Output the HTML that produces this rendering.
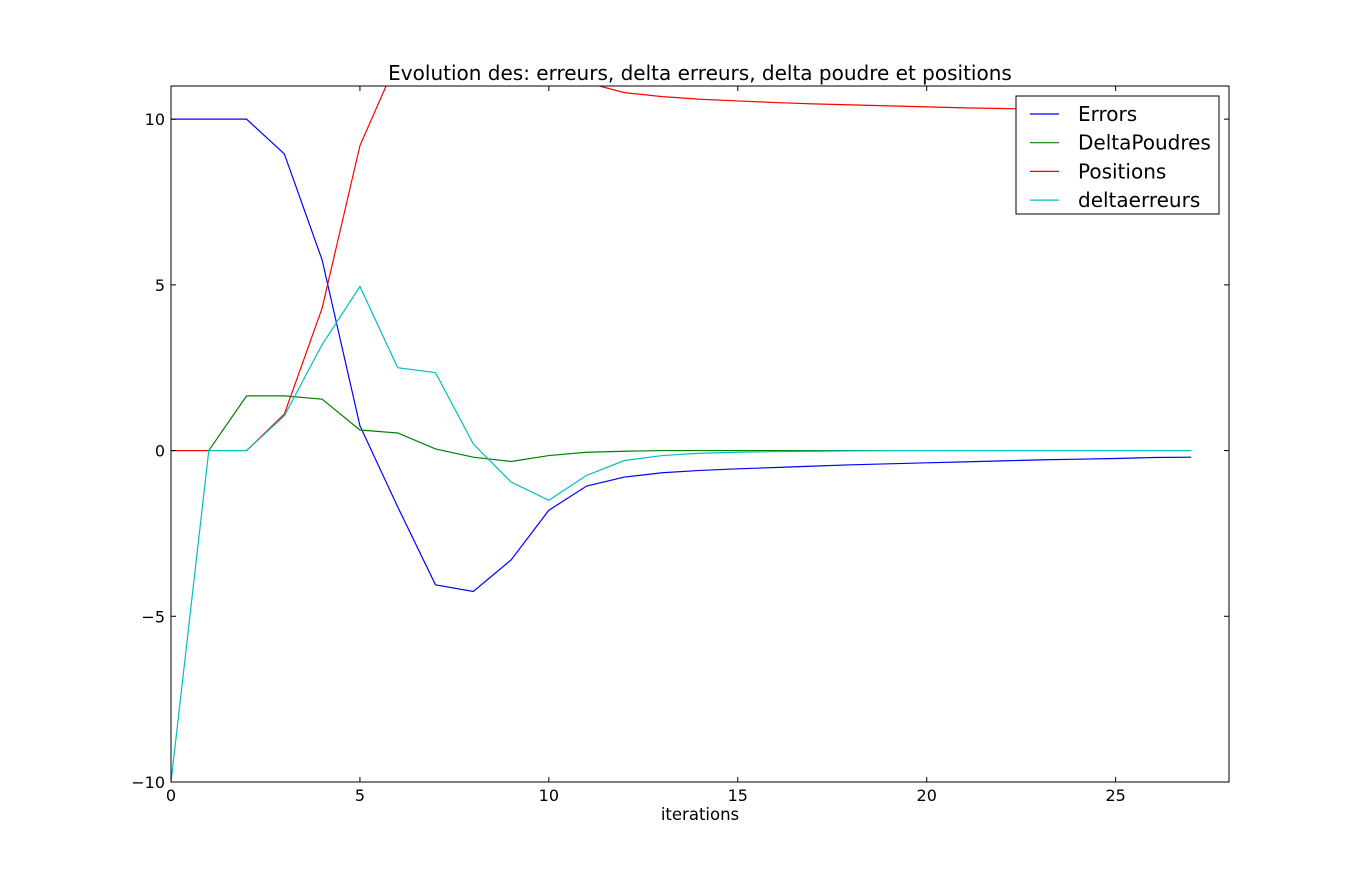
<!DOCTYPE html>
<html><head><meta charset="utf-8"><style>
body{margin:0;background:#fff;}
svg text{font-family:"DejaVu Sans","Liberation Sans",sans-serif;}
</style></head><body>
<svg id="c" width="1365" height="869" xmlns="http://www.w3.org/2000/svg">
<rect width="1365" height="869" fill="#fff"/>
<text x="700" y="80" font-size="20" text-anchor="middle">Evolution des: erreurs, delta erreurs, delta poudre et positions</text>
<text x="700" y="820" font-size="16.5" text-anchor="middle">iterations</text>
<defs><clipPath id="clip"><rect x="171" y="86" width="1058" height="696"/></clipPath></defs>
<g id="series" clip-path="url(#clip)"></g>
<g id="axes"></g>
<g>
<rect x="1016" y="96" width="203" height="118" fill="#fff" stroke="#000" stroke-width="1"/>
<g id="leg"></g>
</g>
</svg>
<script>
const xTicks=[0,5,10,15,20,25];
const yTicks=[-10,-5,0,5,10];
const yTickLabels=["\u221210","\u22125","0","5","10"];
const seriesNames=["Errors","DeltaPoudres","Positions","deltaerreurs"];
const errors=[10,10,10,8.95,5.75,0.75,-1.7,-4.05,-4.25,-3.3,-1.8,-1.07,-0.8,-0.67,-0.6,-0.55,-0.51,-0.47,-0.43,-0.4,-0.37,-0.34,-0.31,-0.28,-0.26,-0.24,-0.21,-0.2];
const deltaPoudres=[0,0,1.65,1.65,1.55,0.62,0.53,0.05,-0.2,-0.33,-0.15,-0.05,-0.02,0,0,0,0,0,0,0,0,0,0,0,0,0,0,0];
const positions=[0,0,0,1.1,4.3,9.2,11.8,12.3,12.2,11.9,11.6,11.1,10.8,10.68,10.6,10.55,10.5,10.46,10.43,10.4,10.37,10.34,10.32,10.3,10.28,10.26,10.25,10.24];
const deltaErreurs=[-10,0,0,1.05,3.2,4.95,2.5,2.35,0.2,-0.95,-1.5,-0.75,-0.3,-0.15,-0.08,-0.05,-0.03,-0.02,-0.01,0,0,0,0,0,0,0,0,0];
const colors=["#0000ff","#008000","#ff0000","#00bfbf"];
const X0=171,X1=1229,Y0=782,Y1=86,xmin=0,xmax=28,ymin=-10,ymax=11;
const sx=v=>X0+(v-xmin)/(xmax-xmin)*(X1-X0);
const sy=v=>Y0-(v-ymin)/(ymax-ymin)*(Y0-Y1);
const NS="http://www.w3.org/2000/svg";
function mk(t,a,p){const e=document.createElementNS(NS,t);for(const k in a)e.setAttribute(k,a[k]);p.appendChild(e);return e;}
const S=document.getElementById('series'),A=document.getElementById('axes'),L=document.getElementById('leg');
[errors,deltaPoudres,positions,deltaErreurs].forEach((d,i)=>{
 const p=mk('polyline',{points:d.map((v,j)=>sx(j)+','+sy(v)).join(' '),fill:'none',stroke:colors[i],'stroke-width':1.2},S);
 
 
});
const fr=mk('rect',{x:X0,y:Y1,width:X1-X0,height:Y0-Y1,fill:'none',stroke:'#000','stroke-width':1},A);


xTicks.forEach(v=>{const x=sx(v);
 mk('line',{x1:x,x2:x,y1:Y0,y2:Y0-5,stroke:'#000'},A);mk('line',{x1:x,x2:x,y1:Y1,y2:Y1+5,stroke:'#000'},A);
 const t=mk('text',{x:x,y:Y0+19,'font-size':16,'text-anchor':'middle'},A);t.textContent=v;
 
 });
yTicks.forEach((v,i)=>{const y=sy(v);
 mk('line',{x1:X0,x2:X0+5,y1:y,y2:y,stroke:'#000'},A);mk('line',{x1:X1,x2:X1-5,y1:y,y2:y,stroke:'#000'},A);
 const t=mk('text',{x:X0-6,y:y+6,'font-size':16,'text-anchor':'end'},A);t.textContent=yTickLabels[i];
 
 });
seriesNames.forEach((n,i)=>{const y=114+i*28.7;
 const g=mk('g',{},L);
 
 
 mk('line',{x1:1030,x2:1059,y1:y,y2:y,stroke:colors[i],'stroke-width':1.2},g);
 const t=mk('text',{x:1078,y:y+7,'font-size':20},g);t.textContent=n;});
</script>
</body></html>
